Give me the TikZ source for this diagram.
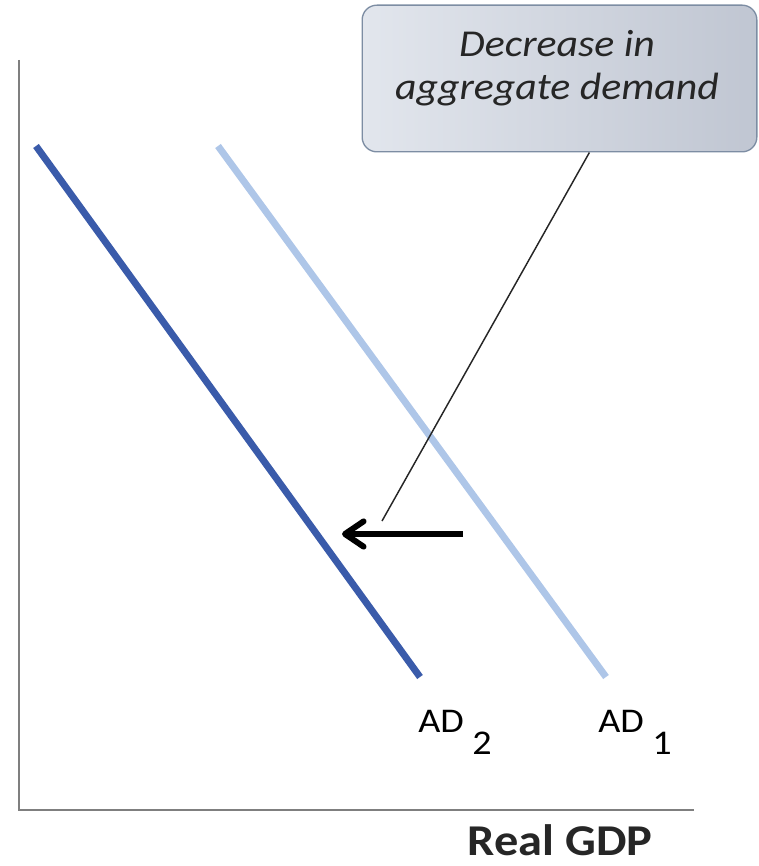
\documentclass[tikz,border=0pt]{standalone}
\usepackage{fontspec}
\setmainfont{Carlito}[FakeStretch=1.1]
\usetikzlibrary{positioning,calc,arrows.meta}
\definecolor{adnavy}{RGB}{58,91,170}
\definecolor{adsky}{RGB}{174,198,232}
\definecolor{axisgray}{RGB}{127,127,127}
\definecolor{calloutlt}{RGB}{226,230,237}
\definecolor{calloutdk}{RGB}{192,198,210}
\definecolor{calloutrim}{RGB}{125,141,163}
\definecolor{inkgray}{RGB}{38,38,38}

\begin{document}
\begin{tikzpicture}[
  x=0.75pt,y=-0.75pt,
  axis/.style={draw=axisgray,line width=1.6pt},
  adline/.style={line width=5.2pt},
  adlabel/.style={anchor=base west,inner sep=0pt,font=\fontsize{26}{30}\selectfont},
  callout/.style={rectangle,rounded corners=11pt,draw=calloutrim,line width=1pt,
    left color=calloutlt,right color=calloutdk,minimum width=296pt,minimum height=110pt},
  callouttext/.style={align=center,inner sep=0pt,text=inkgray,
    font=\fontsize{28.5}{32}\selectfont\itshape},
  leader/.style={draw=inkgray,line width=1.1pt},
  shiftarrow/.style={line width=4.4pt,-{Straight Barb[length=14pt,width=19pt,line cap=round,line join=round]}}
]
\useasboundingbox (0,0) rectangle (759,866);
% axes
\coordinate (origin) at (19,810);
\coordinate (ytop) at (19,60);
\coordinate (xend) at (694,810);
\draw[axis] (ytop) -- (origin) -- (xend);
% demand curves
\coordinate (ad2top) at (36,146);
\coordinate (ad2bot) at (420,677);
\coordinate (ad1top) at (218,146);
\coordinate (ad1bot) at (606,677);
\draw[adline,adsky] (ad1top) -- (ad1bot);
\draw[adline,adnavy] (ad2top) -- (ad2bot);
\node[adlabel] (ad2) at (418,732) {AD \raisebox{-17pt}{2}};
\node[adlabel] (ad1) at (598,732) {AD \raisebox{-17pt}{1}};
% shift arrow
\coordinate (shiftfrom) at (463,534);
\coordinate (shiftto) at (342,534);
\draw[shiftarrow] (shiftfrom) -- (shiftto);
% callout
\node[callout] (note) at (559.5,78.5) {};
\node[callouttext,anchor=north] (notetext) at (557,30) {Decrease in\\aggregate demand};
\coordinate (leadend) at (382,521);
\draw[leader] (note.-68) -- (leadend);
% axis title
\node[anchor=base,inner sep=0pt,font=\fontsize{33}{36}\selectfont\bfseries,text=inkgray] (xtitle) at (560,855) {Real GDP};
\end{tikzpicture}
\end{document}
